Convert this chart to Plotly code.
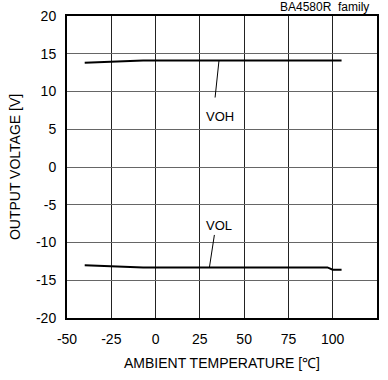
import plotly.graph_objects as go

temp_voh = [-40, -7, 105]
voh = [13.8, 14.1, 14.1]
temp_vol = [-40, -7, 97, 100, 105]
vol = [-13.0, -13.3, -13.3, -13.6, -13.6]

# leader lines for the labels
voh_lead_x = [35.8, 33.6]
voh_lead_y = [14.1, 9.2]
vol_lead_x = [33.2, 30.4]
vol_lead_y = [-9.0, -13.3]

x_ticks = [-50, -25, 0, 25, 50, 75, 100, 125]
x_tick_text = ["-50", "-25", "0", "25", "50", "75", "100", "125"]
y_ticks = [-20, -15, -10, -5, 0, 5, 10, 15, 20]
y_tick_text = ["-20", "-15", "-10", "-5", "0", "5", "10", "15", "20"]

font = "Liberation Sans, Arial, sans-serif"

fig = go.Figure()
fig.add_trace(go.Scatter(x=temp_voh, y=voh, mode="lines",
                         line=dict(color="black", width=2)))
fig.add_trace(go.Scatter(x=temp_vol, y=vol, mode="lines",
                         line=dict(color="black", width=2)))
fig.add_trace(go.Scatter(x=voh_lead_x, y=voh_lead_y, mode="lines",
                         line=dict(color="black", width=1)))
fig.add_trace(go.Scatter(x=vol_lead_x, y=vol_lead_y, mode="lines",
                         line=dict(color="black", width=1)))

fig.add_annotation(x=36.4, y=6.7, text="VOH", showarrow=False,
                   font=dict(size=13, color="black", family=font))
fig.add_annotation(x=35.8, y=-7.8, text="VOL", showarrow=False,
                   font=dict(size=13, color="black", family=font))
fig.add_annotation(x=1, y=1, xref="paper", yref="paper", xanchor="right",
                   yanchor="bottom", text="BA4580R\u00a0 family", showarrow=False,
                   xshift=-6, yshift=0,
                   font=dict(size=12, color="black", family=font))

fig.update_layout(
    width=388, height=380,
    margin=dict(l=67, r=11, t=16, b=62, autoexpand=False),
    paper_bgcolor="white", plot_bgcolor="white",
    showlegend=False,
    font=dict(family=font, size=14, color="black"),
)
fig.update_xaxes(range=[-50, 125], tickvals=x_ticks, ticktext=x_tick_text,
                 showgrid=True, gridcolor="#222", automargin=False,
                 gridwidth=1, zeroline=False, showline=True, linecolor="black",
                 linewidth=2, mirror=True, ticks="", ticklabelstandoff=7,
                 title=dict(text="AMBIENT TEMPERATURE [℃]", standoff=12,
                            font=dict(size=14)))
fig.update_yaxes(range=[-20, 20], tickvals=y_ticks, ticktext=y_tick_text,
                 showgrid=True, gridcolor="#666", automargin=False,
                 gridwidth=1, zeroline=False, showline=True, linecolor="black",
                 linewidth=2, mirror=True, ticks="", ticklabelstandoff=6,
                 title=dict(text="OUTPUT VOLTAGE [V]", standoff=12,
                            font=dict(size=14)))

# the page body has a default margin, drop it so the figure sits at 0,0
fig.write_html("out.html", config={"displayModeBar": False},
               post_script="document.body.style.margin='0px';")
